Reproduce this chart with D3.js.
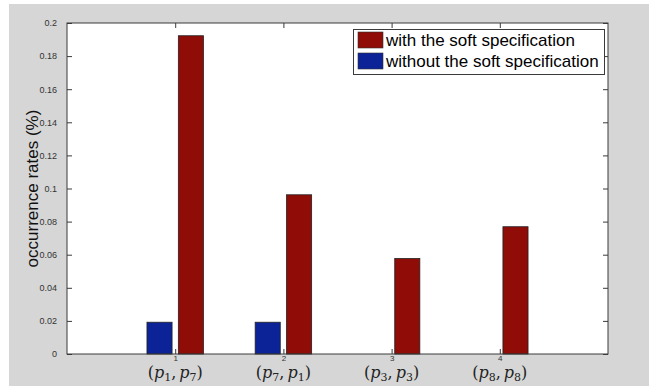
<!DOCTYPE html>
<html>
<head>
<meta charset="utf-8">
<script src="https://cdn.jsdelivr.net/npm/d3@7"></script>
<style>
  html, body { margin: 0; padding: 0; background: #fff; }
  svg { display: block; }
</style>
</head>
<body>
<svg id="chart" width="657" height="388"></svg>
<script>
// Occurrence rates per specification pair
const groups = [1, 2, 3, 4];
const pairLabels = [["1", "7"], ["7", "1"], ["3", "3"], ["8", "8"]];
const withoutSoft = [0.0192, 0.0192, 0, 0];
const withSoft = [0.1923, 0.0962, 0.0577, 0.0769];
const yTicks = [0, 0.02, 0.04, 0.06, 0.08, 0.1, 0.12, 0.14, 0.16, 0.18, 0.2];
const legendLabels = ["with the soft specification", "without the soft specification"];

const colWith = "#8f0c07";
const colWithout = "#0b2397";
const axisCol = "#3a3a3a";

const svg = d3.select("#chart");

// figure background
svg.append("rect").attr("x", 9).attr("y", 4).attr("width", 640).attr("height", 382)
  .attr("fill", "#d6d6d6");

const plot = { left: 67, top: 23, right: 608, bottom: 354 };
const x = d3.scaleLinear().domain([0, 5]).range([plot.left, plot.right]);
const y = d3.scaleLinear().domain([0, 0.2]).range([plot.bottom, plot.top]);

svg.append("rect").attr("x", plot.left).attr("y", plot.top)
  .attr("width", plot.right - plot.left).attr("height", plot.bottom - plot.top)
  .attr("fill", "#fff");

// bars (grouped, two series)
const offset = 0.145, barW = 0.232;
const series = [
  { values: withoutSoft, color: colWithout, dx: -offset },
  { values: withSoft, color: colWith, dx: offset }
];
series.forEach(s => {
  const data = groups.map((g, i) => ({ g, v: s.values[i] })).filter(d => d.v > 0);
  svg.append("g").selectAll("rect").data(data).join("rect")
    .attr("x", d => x(d.g + s.dx - barW / 2))
    .attr("y", d => y(d.v))
    .attr("width", x(barW) - x(0))
    .attr("height", d => y(0) - y(d.v))
    .attr("fill", s.color)
    .attr("stroke", "#222").attr("stroke-width", 0.8);
});

// axes
const tickFmt = d => d === 0 ? "0" : d3.format("~g")(d);
const yAxisL = d3.axisLeft(y).tickValues(yTicks).tickSize(-5).tickPadding(10).tickFormat(tickFmt);
const yAxisR = d3.axisRight(y).tickValues(yTicks).tickSize(-5).tickFormat("");
const xAxisB = d3.axisBottom(x).tickValues(groups).tickSize(-5).tickPadding(2).tickFormat(d3.format("d"));
const xAxisT = d3.axisTop(x).tickValues(groups).tickSize(-5).tickFormat("");

function style(g) {
  g.selectAll("path, line").attr("stroke", axisCol).attr("stroke-width", 1);
  g.selectAll("path").remove();
  g.selectAll("text").attr("fill", "#333").style("font-family", "Liberation Sans, Arial, sans-serif");
}
svg.append("g").attr("transform", `translate(${plot.left},0)`).call(yAxisL).call(style)
  .selectAll("text").style("font-size", "9px");
svg.append("g").attr("transform", `translate(${plot.right},0)`).call(yAxisR).call(style);
svg.append("g").attr("transform", `translate(0,${plot.bottom})`).call(xAxisB).call(style)
  .selectAll("text").style("font-size", "8px").attr("dy", "0.6em");
svg.append("g").attr("transform", `translate(0,${plot.top})`).call(xAxisT).call(style);

// axes box
svg.append("rect").attr("x", plot.left).attr("y", plot.top)
  .attr("width", plot.right - plot.left).attr("height", plot.bottom - plot.top)
  .attr("fill", "none").attr("stroke", axisCol).attr("stroke-width", 1);

// pair labels under the ticks
const lab = svg.append("g").style("font-family", "DejaVu Serif, Liberation Serif, serif");
groups.forEach((g, i) => {
  const t = lab.append("text").attr("x", x(g)).attr("y", 378)
    .attr("text-anchor", "middle").attr("fill", "#222").style("font-size", "16px");
  t.append("tspan").text("(");
  t.append("tspan").attr("font-style", "italic").text("p");
  t.append("tspan").attr("font-size", "11px").attr("dy", 3).text(pairLabels[i][0]);
  t.append("tspan").attr("dy", -3).text(",");
  t.append("tspan").attr("dx", 3).attr("font-style", "italic").text("p");
  t.append("tspan").attr("font-size", "11px").attr("dy", 3).text(pairLabels[i][1]);
  t.append("tspan").attr("dy", -3).text(")");
});

// y label
svg.append("text")
  .attr("transform", `translate(38,${(plot.top + plot.bottom) / 2}) rotate(-90)`)
  .attr("text-anchor", "middle").attr("fill", "#111")
  .style("font-family", "Liberation Sans, Arial, sans-serif").style("font-size", "17px")
  .text("occurrence rates (%)");

// legend
const leg = svg.append("g");
leg.append("rect").attr("x", 353.5).attr("y", 29.5).attr("width", 251).attr("height", 45)
  .attr("fill", "#fff").attr("stroke", axisCol).attr("stroke-width", 1);
[colWith, colWithout].forEach((c, i) => {
  leg.append("rect").attr("x", 358).attr("y", 32 + i * 21).attr("width", 25).attr("height", 16)
    .attr("fill", c).attr("stroke", "#333").attr("stroke-width", 0.6);
  leg.append("text").attr("x", 386).attr("y", 46 + i * 21)
    .style("font-family", "Liberation Sans, Arial, sans-serif").style("font-size", "17px")
    .attr("fill", "#000").text(legendLabels[i]);
});
</script>
</body>
</html>
